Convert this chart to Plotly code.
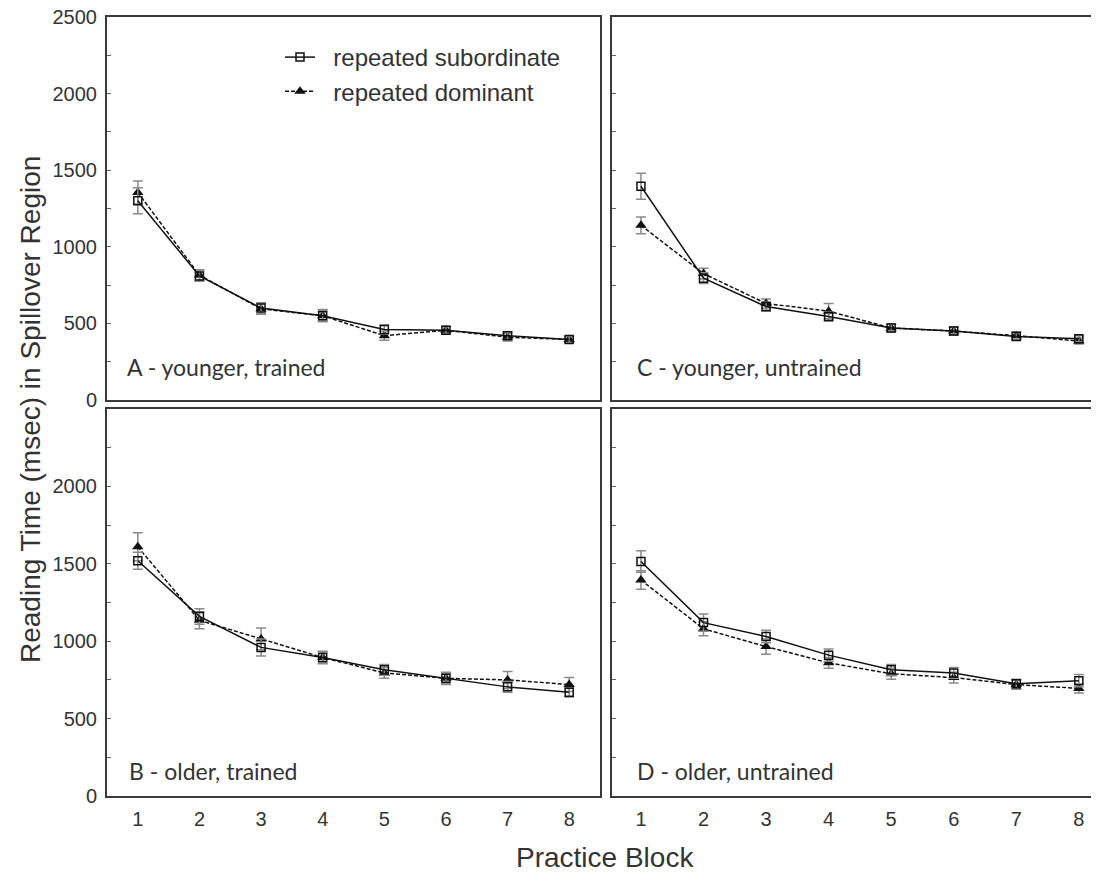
import plotly.graph_objects as go

blocks = [1, 2, 3, 4, 5, 6, 7, 8]
y_ticks_top = [0, 500, 1000, 1500, 2000, 2500]
y_ticks_bottom = [0, 500, 1000, 1500, 2000]

# Panel A - younger, trained
A_sub = [1300, 810, 600, 550, 460, 455, 420, 395]
A_dom = [1355, 815, 595, 550, 420, 455, 410, 395]
A_sub_err = [85, 35, 35, 35, 30, 25, 25, 20]
A_dom_err = [75, 35, 35, 40, 30, 25, 25, 20]

# Panel C - younger, untrained
C_sub = [1395, 795, 610, 545, 470, 450, 415, 400]
C_dom = [1140, 825, 630, 580, 470, 450, 420, 385]
C_sub_err = [85, 35, 30, 30, 25, 25, 25, 20]
C_dom_err = [55, 35, 30, 50, 25, 25, 25, 20]

# Panel B - older, trained
B_sub = [1520, 1160, 960, 895, 815, 760, 705, 670]
B_dom = [1610, 1135, 1015, 895, 795, 760, 750, 720]
B_sub_err = [55, 50, 55, 35, 35, 35, 35, 30]
B_dom_err = [90, 55, 70, 40, 35, 40, 55, 45]

# Panel D - older, untrained
D_sub = [1515, 1120, 1030, 910, 815, 795, 725, 745]
D_dom = [1395, 1080, 965, 860, 790, 765, 720, 695]
D_sub_err = [70, 55, 40, 40, 35, 35, 30, 40]
D_dom_err = [60, 45, 50, 35, 35, 35, 30, 30]

series_names = ["repeated subordinate", "repeated dominant"]
panel_labels = ["A - younger, trained", "C - younger, untrained",
                "B - older, trained", "D - older, untrained"]

W, H = 1099, 872
OFF = 8  # page body margin

def px_x(p):
    return (p - OFF) / W

def px_y(p):
    return 1 - (p - OFF) / H

panels = [
    ("x", "y", A_sub, A_dom, A_sub_err, A_dom_err, panel_labels[0]),
    ("x2", "y2", C_sub, C_dom, C_sub_err, C_dom_err, panel_labels[1]),
    ("x3", "y3", B_sub, B_dom, B_sub_err, B_dom_err, panel_labels[2]),
    ("x4", "y4", D_sub, D_dom, D_sub_err, D_dom_err, panel_labels[3]),
]

NB = "\u00a0"
fig = go.Figure()
err_color = "#8a8a8a"
for i, (xa, ya, sub, dom, se_sub, se_dom, lab) in enumerate(panels):
    fig.add_trace(go.Scatter(
        x=blocks, y=dom, xaxis=xa, yaxis=ya, mode="lines+markers",
        name=NB * 2 + series_names[1], showlegend=(i == 0), legendrank=2,
        line=dict(color="#111", width=1.5, dash="4px,2px"),
        marker=dict(symbol="triangle-up", size=10, color="#111"),
        error_y=dict(type="data", array=se_dom, color=err_color, thickness=1.5, width=5),
    ))
    fig.add_trace(go.Scatter(
        x=blocks, y=sub, xaxis=xa, yaxis=ya, mode="lines+markers",
        name=NB * 2 + series_names[0], showlegend=(i == 0), legendrank=1,
        line=dict(color="#111", width=1.5),
        marker=dict(symbol="square-open", size=8, color="#111", line=dict(width=1.5)),
        error_y=dict(type="data", array=se_sub, color=err_color, thickness=1.5, width=5),
    ))

left_dom = [px_x(107), px_x(600)]
right_dom = [px_x(612), 1.0]
top_dom = [px_y(400), px_y(17)]
bot_dom = [px_y(796), px_y(409)]

tick_font = dict(family="Liberation Sans, Arial, sans-serif", size=20, color="#333")
line_col = "#3a3a3a"

def xaxis_cfg(domain, rng, show_labels):
    return dict(domain=domain, range=rng, showgrid=False, zeroline=False,
                showline=True, linecolor=line_col, linewidth=2, mirror=True,
                tickvals=blocks, showticklabels=show_labels, ticks="",
                tickfont=tick_font, ticklabelstandoff=4, automargin=False,
                fixedrange=True)

def yaxis_cfg(domain, anchor, labels, mirror):
    return dict(domain=domain, anchor=anchor, range=[0, 2500], showgrid=False,
                zeroline=False, showline=True, linecolor=line_col, linewidth=2,
                mirror=mirror, tickvals=labels, showticklabels=True,
                ticks="inside", ticklen=4, tickcolor="#666", tickwidth=1,
                minor=dict(dtick=250, ticks="inside", ticklen=4, tickcolor="#666"),
                tickfont=tick_font, ticklabelstandoff=4, automargin=False,
                ticklabeloverflow="allow", fixedrange=True)

fig.update_layout(
    width=W, height=H,
    margin=dict(l=0, r=0, t=0, b=0),
    plot_bgcolor="white", paper_bgcolor="white",
    xaxis=xaxis_cfg(left_dom, [0.5, 8.5], False) | dict(anchor="y"),
    yaxis=yaxis_cfg(top_dom, "x", y_ticks_top, True),
    xaxis2=xaxis_cfg(right_dom, [0.537, 8.45], False) | dict(anchor="y2"),
    yaxis2=yaxis_cfg(top_dom, "x2", y_ticks_top, False) | dict(showticklabels=False),
    xaxis3=xaxis_cfg(left_dom, [0.5, 8.5], True) | dict(anchor="y3"),
    yaxis3=yaxis_cfg(bot_dom, "x3", y_ticks_bottom, True),
    xaxis4=xaxis_cfg(right_dom, [0.537, 8.45], True) | dict(anchor="y4"),
    yaxis4=yaxis_cfg(bot_dom, "x4", y_ticks_bottom, False) | dict(showticklabels=False),
    legend=dict(x=px_x(280), y=px_y(35), xanchor="left", yanchor="top",
                bgcolor="rgba(0,0,0,0)", traceorder="normal",
                font=dict(family="Liberation Sans, Arial, sans-serif", size=24, color="#333"),
                tracegroupgap=0, itemwidth=30),
    showlegend=True,
)

label_font = dict(family="Lato, 'Open Sans', sans-serif", size=23, color="#333")
label_pos = [(125, 367), (635, 367), (127, 771), (635, 771)]
for (lx, ly), (_, _, _, _, _, _, lab) in zip(label_pos, panels):
    fig.add_annotation(x=px_x(lx), y=px_y(ly), xref="paper", yref="paper",
                       text=lab, showarrow=False, xanchor="left", yanchor="middle",
                       font=label_font)

title_font = dict(family="Liberation Sans, Arial, sans-serif", size=28, color="#333")
fig.add_annotation(x=px_x(30), y=px_y(410), xref="paper", yref="paper",
                   text="Reading Time (msec) in Spillover Region", textangle=-90,
                   showarrow=False, xanchor="center", yanchor="middle", font=title_font)
fig.add_annotation(x=px_x(605), y=px_y(857), xref="paper", yref="paper",
                   text="Practice Block", showarrow=False,
                   xanchor="center", yanchor="middle", font=title_font)

fig.write_html("out.html")
